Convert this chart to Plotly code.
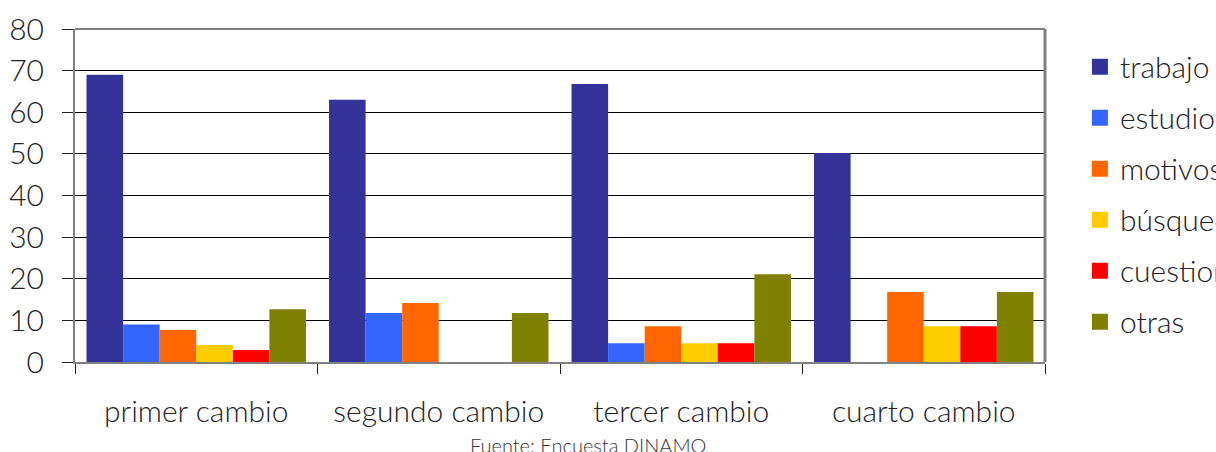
import plotly.graph_objects as go

categories = ["primer cambio", "segundo cambio", "tercer cambio", "cuarto cambio"]
series_names = ["trabajo", "estudios", "motivos", "búsqueda", "cuestiones", "otras"]
trabajo = [69, 63, 66.8, 50.2]
estudios = [9, 11.8, 4.5, 0]
motivos = [7.7, 14.2, 8.6, 16.8]
busqueda = [4.1, 0, 4.5, 8.6]
cuestiones = [2.9, 0, 4.5, 8.6]
otras = [12.7, 11.8, 21.1, 16.8]
series_values = [trabajo, estudios, motivos, busqueda, cuestiones, otras]
colors = ["#333399", "#3366FF", "#FF6600", "#FFCC00", "#FF0000", "#808000"]
y_ticks = [0, 10, 20, 30, 40, 50, 60, 70, 80]

FONT = "Lato"
TXT = "#222222"

fig = go.Figure()
for i, (name, vals, col) in enumerate(zip(series_names, series_values, colors)):
    fig.add_trace(go.Bar(
        x=categories, y=vals, name=name,
        marker=dict(color=col, line=dict(width=0)),
        legendgroup=f"g{i}", showlegend=False,
    ))
# legend entries with larger square swatches
for i, (name, col) in enumerate(zip(series_names, colors)):
    fig.add_trace(go.Scatter(
        x=[None], y=[None], mode="markers", name=name,
        marker=dict(symbol="square", size=18, color=col),
        legendgroup=f"g{i}", showlegend=True,
    ))

fig.update_layout(
    width=1216, height=452,
    margin=dict(l=75, r=171, t=29, b=90, autoexpand=False),
    paper_bgcolor="white", plot_bgcolor="white",
    barmode="group", bargap=0.095, bargroupgap=0,
    font=dict(family=FONT, size=28, color=TXT, weight=300),
    legend=dict(
        x=1.036, xanchor="left", y=0.965, yanchor="top",
        font=dict(family=FONT, size=30, color=TXT, weight=300),
        tracegroupgap=9, bgcolor="rgba(0,0,0,0)", itemsizing="trace",
    ),
    xaxis=dict(
        showline=True, linecolor="#808080", linewidth=2,
        ticks="outside", tickson="boundaries", ticklen=10, tickcolor=TXT,
        ticklabelstandoff=22,
        tickfont=dict(family=FONT, size=30, color=TXT, weight=300),
        showgrid=False, fixedrange=True,
    ),
    yaxis=dict(
        range=[0, 80], tickvals=y_ticks,
        showline=True, linecolor="#808080", linewidth=2,
        ticks="outside", ticklen=11, tickcolor=TXT,
        ticklabelstandoff=12,
        tickfont=dict(family=FONT, size=30, color=TXT, weight=300),
        showgrid=True, gridcolor="#000000", gridwidth=1,
        zeroline=False,
    ),
    showlegend=True,
)

# gray frame on top and right of the plot area
fig.add_shape(type="line", xref="paper", yref="paper", x0=0, x1=1, y0=1, y1=1,
              line=dict(color="#808080", width=2), layer="above")
fig.add_shape(type="line", xref="paper", yref="paper", x0=1, x1=1, y0=0, y1=1,
              line=dict(color="#808080", width=3), layer="above")

fig.add_annotation(text="Fuente: Encuesta DINAMO", xref="paper", yref="paper",
                   x=0.529, y=-0.249, xanchor="center", yanchor="middle",
                   showarrow=False,
                   font=dict(family=FONT, size=20, color="#333333", weight=300))

fig.write_html("out.html")
